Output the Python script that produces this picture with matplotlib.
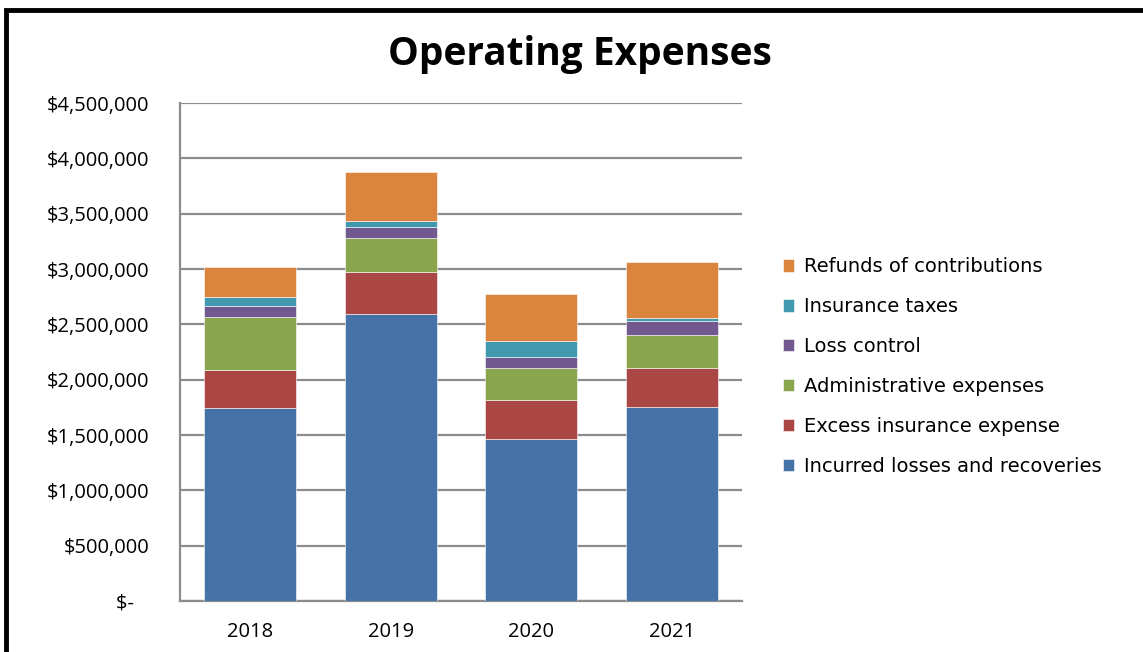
import matplotlib
matplotlib.use("Agg")
import matplotlib.pyplot as plt
import numpy as np
from matplotlib.patches import Rectangle

years = ["2018", "2019", "2020", "2021"]
series = [
    "Incurred losses and recoveries",
    "Excess insurance expense",
    "Administrative expenses",
    "Loss control",
    "Insurance taxes",
    "Refunds of contributions",
]
incurred = [1741000, 2591000, 1464000, 1753000]
excess = [347000, 380000, 350000, 350000]
admin = [476000, 307000, 289000, 304000]
loss_control = [105000, 105000, 105000, 121000]
ins_taxes = [76000, 49000, 139000, 33000]
refunds = [274000, 443000, 428000, 503000]
values = [incurred, excess, admin, loss_control, ins_taxes, refunds]
colors = ["#4572A7", "#AA4643", "#89A54E", "#71588F", "#4198AF", "#DB843D"]

W, H = 1143, 652
fig = plt.figure(figsize=(W / 100, H / 100), dpi=100)
ax = fig.add_axes([180 / W, 1 - 601 / H, (742 - 180) / W, (601 - 103) / H])

x = np.arange(len(years))
bottom = np.zeros(len(years))
handles = []
for name, vals, c in zip(series, values, colors):
    b = ax.bar(x, vals, 0.655, bottom=bottom, color=c, label=name,
               edgecolor="white", linewidth=0.4, zorder=3)
    handles.append(b)
    bottom += np.array(vals)

ax.set_xlim(-0.5, 3.5)
ax.set_ylim(0, 4500000)
ticks = np.arange(0, 4500001, 500000)
ax.set_yticks(ticks)
ax.set_yticklabels(["$-   "] + [f"${t:,.0f}" for t in ticks[1:]],
                   fontsize=14.5, family="Open Sans")
ax.set_xticks(x)
ax.set_xticklabels(years, fontsize=14.5, family="Open Sans")
ax.tick_params(axis="y", length=0, pad=22)
ax.tick_params(axis="x", length=0, pad=15)
ax.grid(axis="y", color="#8c8c8c", linewidth=1.6, zorder=0)
for s in ("top", "right"):
    ax.spines[s].set_visible(False)
for s in ("left", "bottom"):
    ax.spines[s].set_color("#8c8c8c")
    ax.spines[s].set_linewidth(1.6)

fig.text(580 / W, 1 - 55 / H, "Operating Expenses", ha="center", va="center",
         fontsize=28, fontweight="bold", family="Open Sans")

fig.legend(handles[::-1], series[::-1], loc="upper left",
           bbox_to_anchor=(765 / W, 1 - 240 / H), frameon=False,
           prop={"family": "DejaVu Sans", "size": 14},
           handlelength=0.6, handleheight=0.6, handletextpad=0.5,
           labelspacing=1.07)

fig.patches.append(Rectangle((6 / W, -0.05), 1.2, 1 - 10 / H + 0.05,
                             transform=fig.transFigure, fill=False,
                             edgecolor="black", linewidth=3.5))

fig.savefig("out.png", dpi=100)
